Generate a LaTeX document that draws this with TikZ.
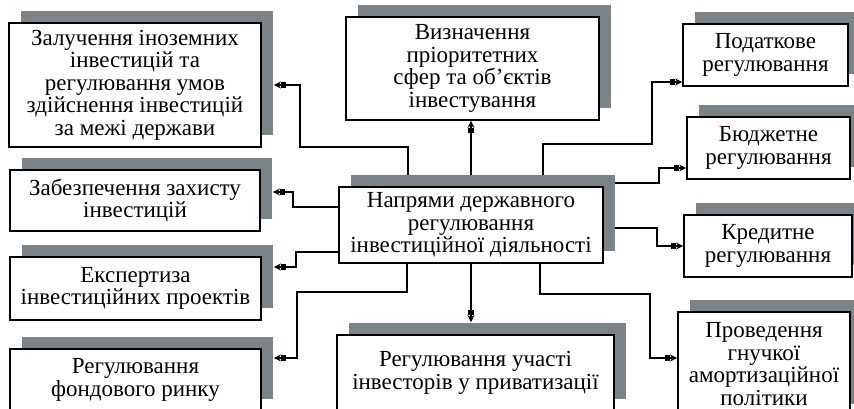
\documentclass[tikz,border=0pt]{standalone}
\usepackage{fontspec}
\setmainfont{Liberation Serif}
\usetikzlibrary{arrows.meta,shadows,backgrounds}
\definecolor{tin}{RGB}{124,131,134}

\begin{document}
\begin{tikzpicture}[x=1pt,y=-1pt,
	blok/.style={draw,line width=1.8pt,fill=white,align=center,inner sep=1pt,
		font=\fontsize{23}{22.5}\selectfont,
		drop shadow={shadow xshift=12pt,shadow yshift=12pt,fill=tin,opacity=1}},
	zv/.style={line width=1.3pt,-{Rectangle[length=5pt,width=6pt]Stealth[length=7pt,width=7pt]}},
	zvt/.style={zv,line width=2.4pt}]
		\useasboundingbox (0,0) rectangle (854,409);
		\clip (0,0) rectangle (854,409);

		\draw (471,225) node[blok,minimum width=264pt,minimum height=76pt] (nap) {Напрями державного\\регулювання\\інвестиційної діяльності};

		\draw (135,85) node[blok,minimum width=252pt,minimum height=124pt] (zal) {Залучення іноземних\\інвестицій та\\регулювання умов\\здійснення інвестицій\\за межі держави};
		\draw (135,200.5) node[blok,minimum width=250pt,minimum height=61pt] (zab) {Забезпечення захисту\\інвестицій};
		\draw (135.5,288.5) node[blok,minimum width=251pt,minimum height=63pt] (eks) {Експертиза\\інвестиційних проектів};
		\draw (135.5,380) node[blok,minimum width=251pt,minimum height=62pt] (fon) {Регулювання\\фондового ринку};

		\draw (472.5,68.5) node[blok,minimum width=253pt,minimum height=103pt] (viz) {Визначення\\пріоритетних\\сфер та об’єктів\\інвестування};
		\draw (475.5,373) node[blok,minimum width=277pt,minimum height=76pt] (uch) {Регулювання участі\\інвесторів у приватизації};

		\draw (765.5,55) node[blok,minimum width=165pt,minimum height=62pt] (pod) {Податкове\\регулювання};
		\draw (768.5,148) node[blok,minimum width=163pt,minimum height=62pt] (bud) {Бюджетне\\регулювання};
		\draw (768,246) node[blok,minimum width=168pt,minimum height=62pt] (kre) {Кредитне\\регулювання};
		\draw (764,364) node[blok,minimum width=172pt,minimum height=104pt] (pro) {Проведення\\гнучкої\\амортизаційної\\політики};

		\begin{pgfonlayer}{background}
		\draw[zv] ([xshift=-63pt]nap.north) |- (300,147) |- ([xshift=12pt]zal.east);
		\draw[zv] (nap.north) -- (nap.north |- viz.south);
		\draw[zvt] ([xshift=72pt]nap.north) |- (652,144) |- ([yshift=-27pt]pod.west);
		\draw[zv] ([yshift=42pt]nap.east) -| (659,168) -- ([yshift=-20pt]bud.west);
		\draw[zv] ([yshift=-3pt]nap.east) -| (657,246) -- (kre.west);
		\draw[zvt] ([xshift=69pt]nap.south) |- (650,294) |- ([yshift=6pt]pro.west);
		\draw[zvt] (nap.south) -- ([yshift=12pt]nap.south |- uch.north);
		\draw[zv] ([yshift=18pt]nap.west) -| (293,192) -- ([xshift=12pt,yshift=8.5pt]zab.east);
		\draw[zvt] ([yshift=-27pt]nap.west) -| (296,267) -- ([xshift=12pt,yshift=21.5pt]eks.east);
		\draw[zvt] ([xshift=-64pt]nap.south) |- (297,292) |- ([xshift=12pt,yshift=22pt]fon.east);
		\end{pgfonlayer}
	\end{tikzpicture}
\end{document}
